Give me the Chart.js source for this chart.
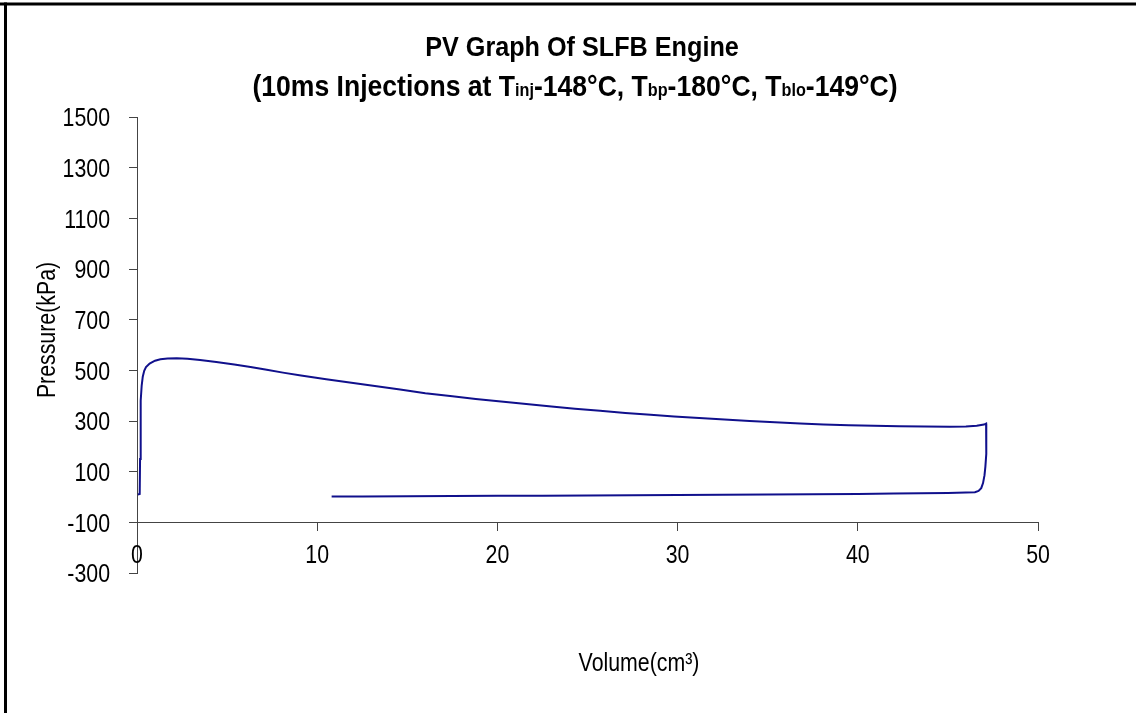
<!DOCTYPE html>
<html><head><meta charset="utf-8">
<script src="https://cdn.jsdelivr.net/npm/chart.js@4.4.1/dist/chart.umd.min.js"></script>
<style>html,body{margin:0;padding:0;background:#fff;overflow:hidden}#wrap{width:1136px;height:713px;position:relative}</style>
</head><body><div id="wrap"><canvas id="c" width="1136" height="713"></canvas></div>
<script>
// Volume (cm³) and pressure (kPa) read from the loop
const volume = [0.05, 0.15, 0.17, 0.19, 0.22, 0.26, 0.32, 0.4, 0.5, 0.7, 1.0, 1.3, 1.7, 2.2, 2.8, 3.5, 4.4, 5.4, 6.3, 7.2, 8.1, 9.1, 10.5, 12, 13.3, 14.6, 16, 17.5, 18.8, 20.2, 21.6, 23, 24.3, 25.7, 27.1, 28.5, 29.8, 31.2, 32.6, 34, 35.4, 36.8, 38.1, 39.5, 40.9, 42.3, 43.7, 45.1, 46.0, 46.6, 47.0, 47.12, 47.14, 47.12, 47.08, 47.03, 46.95, 46.85, 46.7, 46.5, 45, 42, 40, 37.5, 35, 32.5, 30, 27.5, 25, 22.5, 20, 17.5, 15, 12.5, 10.8];
const pressure = [10, 12, 150, 280, 380, 440, 475, 498, 513, 527, 538, 544, 547, 548, 546, 541, 533, 523, 513, 502, 491, 480, 465, 450, 437, 424, 410, 398, 387, 377, 367, 357, 348, 340, 332, 325, 318, 312, 306, 300, 295, 290, 286, 283, 281, 279, 278, 277, 278, 281, 286, 290, 230, 170, 120, 85, 55, 35, 24, 19, 16, 14, 12, 11, 10, 9, 8, 7, 6, 5, 5, 4, 3, 2, 2];
const xTickValues = [0, 10, 20, 30, 40, 50];
const yTickValues = [-300, -100, 100, 300, 500, 700, 900, 1100, 1300, 1500];
const titleLine1 = 'PV Graph Of SLFB Engine';
// [text, isSubscript]
const titleLine2 = [['(10ms Injections at T', 0], ['inj', 1], ['-148°C, T', 0], ['bp', 1], ['-180°C, T', 0], ['blo', 1], ['-149°C)', 0]];
const xTitle = 'Volume(cm³)';
const yTitle = 'Pressure(kPa)';

const SANS = '"Liberation Sans", Arial, sans-serif';
const NARROW_X = 0.82; // horizontal squeeze to mimic a narrow face

function narrowText(ctx, text, x, y, font, align, sx) {
  ctx.save();
  ctx.font = font;
  const w = ctx.measureText(text).width * sx;
  let left = x;
  if (align === 'center') left = x - w / 2;
  else if (align === 'right') left = x - w;
  ctx.translate(left, y);
  ctx.scale(sx, 1);
  ctx.textAlign = 'left';
  ctx.fillText(text, 0, 0);
  ctx.restore();
  return w;
}

const decor = {
  id: 'decor',
  afterDraw(chart) {
    const ctx = chart.ctx;
    const xs = chart.scales.x, ys = chart.scales.y;
    ctx.save();
    // frame (top & left)
    ctx.fillStyle = '#000';
    ctx.fillRect(0, 2.5, 1136, 3);
    ctx.fillRect(4, 2.5, 3, 711);
    ctx.textBaseline = 'alphabetic';
    // tick labels
    const tickFont = '26px ' + SANS;
    const yAxisPix = ys.getPixelForValue(-100);
    xs.ticks.forEach(t => {
      narrowText(ctx, String(t.value), xs.getPixelForValue(t.value), yAxisPix + 41, tickFont, 'center', NARROW_X);
    });
    ys.ticks.forEach(t => {
      narrowText(ctx, String(t.value), 110, ys.getPixelForValue(t.value) + 9.3, tickFont, 'right', NARROW_X);
    });
    // title
    const TS = 0.9;
    narrowText(ctx, titleLine1, 582, 56, 'bold 28px ' + SANS, 'center', TS);
    const fontFor = s => s ? 'bold 18px ' + SANS : 'bold 29.5px ' + SANS;
    let total = 0;
    const parts = titleLine2.map(([t, s]) => {
      ctx.font = fontFor(s);
      const w = ctx.measureText(t).width * TS;
      total += w; return [t, s, w];
    });
    let x = 575 - total / 2;
    parts.forEach(([t, s, w]) => {
      narrowText(ctx, t, x, 96, fontFor(s), 'left', TS);
      x += w;
    });
    // axis titles
    narrowText(ctx, xTitle, 639, 671, '26px ' + SANS, 'center', NARROW_X);
    ctx.translate(55, 330);
    ctx.rotate(-Math.PI / 2);
    narrowText(ctx, yTitle, 0, 0, '26px ' + SANS, 'center', NARROW_X);
    ctx.restore();
  }
};

new Chart(document.getElementById('c'), {
  type: 'scatter',
  data: {
    datasets: [{
      data: volume.map((v, i) => ({ x: v, y: pressure[i] })),
      showLine: true,
      borderColor: '#10108c',
      borderWidth: 2,
      pointRadius: 0,
      tension: 0,
      fill: false
    }]
  },
  options: {
    responsive: false,
    animation: false,
    devicePixelRatio: 1,
    layout: { padding: { left: 0, right: 98, top: 117, bottom: 140 } },
    plugins: { legend: { display: false }, tooltip: { enabled: false }, title: { display: false } },
    scales: {
      x: {
        type: 'linear',
        position: { y: -100 },
        min: 0, max: 50,
        afterBuildTicks: s => { s.ticks = xTickValues.map(v => ({ value: v })); },
        afterFit: s => { s.paddingLeft = 0; s.paddingRight = 0; },
        grid: { drawOnChartArea: false, drawTicks: true, tickLength: 8, color: '#444', lineWidth: 1 },
        border: { display: true, color: '#444', width: 1 },
        ticks: { display: false }
      },
      y: {
        type: 'linear',
        position: 'left',
        min: -300, max: 1500,
        afterBuildTicks: s => { s.ticks = yTickValues.map(v => ({ value: v })); },
        afterFit: s => { s.width = 137; s.paddingTop = 0; s.paddingBottom = 0; },
        grid: { drawOnChartArea: false, drawTicks: true, tickLength: 8, color: '#444', lineWidth: 1 },
        border: { display: true, color: '#444', width: 1 },
        ticks: { display: false }
      }
    }
  },
  plugins: [decor]
});
</script></body></html>
